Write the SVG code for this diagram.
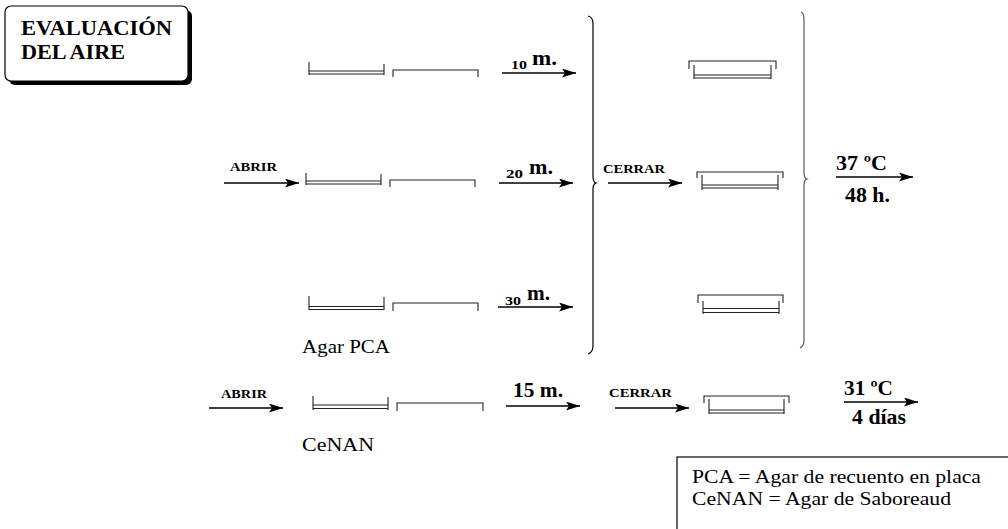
<svg xmlns="http://www.w3.org/2000/svg" width="1008" height="529" viewBox="0 0 1008 529">
<style>
.ln{stroke:#000;stroke-width:1.2;fill:none}
.pl{stroke:#222;stroke-width:1.1;fill:none}
.ar{stroke:#000;stroke-width:1.3;fill:none;marker-end:url(#ah)}
.b{font-weight:bold;fill:#000}
.r{fill:#000}
</style>
<defs>
<marker id="ah" markerUnits="userSpaceOnUse" markerWidth="15" markerHeight="10" refX="14" refY="4.5" orient="auto">
<path d="M0,0 L14,4.5 L0,9 L3,4.5 z" fill="#000"/>
</marker>
</defs>
<rect width="1008" height="529" fill="#fff"/>

<g font-family="Liberation Serif, DejaVu Serif, serif">
<g id="title">
<rect x="9" y="10" width="183" height="75" rx="6" fill="#000"/>
<rect x="5" y="6" width="183" height="75" rx="6" fill="#fff" stroke="#000" stroke-width="1.2"/>
<text class="b" x="21" y="35" font-size="21" textLength="151" lengthAdjust="spacingAndGlyphs">EVALUACIÓN</text>
<text class="b" x="21" y="59" font-size="21" textLength="104" lengthAdjust="spacingAndGlyphs">DEL AIRE</text>
</g>

<g id="row1">
<path class="pl" d="M309,62 V75 M384,64 V75 M309,71 H384 M309,74 H384"/>
<path class="pl" d="M393,77 V70 H478 V77"/>
</g>
<g id="row2">
<path class="pl" d="M306,173 V185 M381,174 V185 M306,181 H381 M306,184 H381"/>
<path class="pl" d="M390,187 V180 H475 V187"/>
</g>
<g id="row3">
<path class="pl" d="M309,296 V310 M384,297 V310 M309,306.5 H384 M309,309.5 H384"/>
<path class="pl" d="M393,311 V303 H478 V311"/>
<text class="r" x="302" y="353" font-size="18" textLength="88" lengthAdjust="spacingAndGlyphs">Agar PCA</text>
</g>

<g id="closed1">
<path class="pl" d="M689,69 V61 H776 V69"/>
<path class="pl" d="M694,65 V79 M771,65 V79 M694,75 H771 M694,78 H771"/>
</g>
<g id="closed2">
<path class="pl" d="M697,178 V172 H783 V178"/>
<path class="pl" d="M702,175 V190 M778,175 V190 M702,185 H778 M702,188 H778"/>
</g>
<g id="closed3">
<path class="pl" d="M698,303 V295 H783 V303"/>
<path class="pl" d="M703,301 V314 M779,301 V314 M703,308.5 H779 M703,312.5 H779"/>
</g>

<g id="brace1">
<path class="ln" d="M588,16 Q593,17 593,24 L593,177 Q593,182 596,183 Q593,184 593,189 L593,346 Q593,352 588,354"/>
</g>
<g id="brace2">
<path class="ln" style="stroke:#555" d="M801,12 Q804,13 804,19 L804,173 Q804,178 807,179 Q804,180 804,185 L804,340 Q804,346 800,348"/>
</g>

<g id="row4">
<path class="pl" d="M313,396 V410 M388,397 V410 M313,405 H388 M313,408.5 H388"/>
<path class="pl" d="M397,411 V403 H483 V411"/>
<path class="pl" d="M704,403 V396 H789 V403"/>
<path class="pl" d="M709,399 V414 M784,399 V414 M709,410 H784 M709,413 H784"/>
<text class="r" x="302" y="451" font-size="18" textLength="72" lengthAdjust="spacingAndGlyphs">CeNAN</text>
</g>

<g id="connectors">
<line class="ar" x1="502" y1="73" x2="576" y2="73"/>
<line class="ar" x1="224" y1="183" x2="299" y2="183"/>
<line class="ar" x1="499" y1="183" x2="573" y2="183"/>
<line class="ar" x1="498" y1="307" x2="573" y2="307"/>
<line class="ar" x1="608" y1="183" x2="682" y2="183"/>
<line class="ar" x1="836" y1="177" x2="913" y2="177"/>
<line class="ar" x1="209" y1="408" x2="283" y2="408"/>
<line class="ar" x1="506" y1="406" x2="580" y2="406"/>
<line class="ar" x1="615" y1="408" x2="689" y2="408"/>
<line class="ar" x1="844" y1="402" x2="918" y2="402"/>
</g>

<g id="labels">
<text class="b" x="511" y="69" font-size="13" textLength="16" lengthAdjust="spacingAndGlyphs">10</text>
<text class="b" x="532" y="65" font-size="20" textLength="25" lengthAdjust="spacingAndGlyphs">m.</text>
<text class="b" x="230" y="171" font-size="12" textLength="47" lengthAdjust="spacingAndGlyphs">ABRIR</text>
<text class="b" x="506" y="178" font-size="13" textLength="17" lengthAdjust="spacingAndGlyphs">20</text>
<text class="b" x="529" y="174" font-size="20" textLength="24" lengthAdjust="spacingAndGlyphs">m.</text>
<text class="b" x="505" y="305" font-size="13" textLength="16" lengthAdjust="spacingAndGlyphs">30</text>
<text class="b" x="527" y="300" font-size="20" textLength="23" lengthAdjust="spacingAndGlyphs">m.</text>
<text class="b" x="603" y="173" font-size="13" textLength="62" lengthAdjust="spacingAndGlyphs">CERRAR</text>
<text class="b" x="836" y="170" font-size="21" textLength="51" lengthAdjust="spacingAndGlyphs">37 ºC</text>
<text class="b" x="845" y="202" font-size="21" textLength="45" lengthAdjust="spacingAndGlyphs">48 h.</text>
<text class="b" x="221" y="398" font-size="12" textLength="46" lengthAdjust="spacingAndGlyphs">ABRIR</text>
<text class="b" x="513" y="397" font-size="21" textLength="50" lengthAdjust="spacingAndGlyphs">15 m.</text>
<text class="b" x="609" y="397" font-size="13" textLength="63" lengthAdjust="spacingAndGlyphs">CERRAR</text>
<text class="b" x="844" y="395" font-size="21" textLength="49" lengthAdjust="spacingAndGlyphs">31 ºC</text>
<text class="b" x="852" y="424" font-size="21" textLength="54" lengthAdjust="spacingAndGlyphs">4 días</text>
</g>

<g id="legend">
<rect x="677" y="457" width="340" height="80" fill="none" stroke="#000" stroke-width="1.2"/>
<text class="r" x="692" y="483" font-size="19" textLength="289" lengthAdjust="spacingAndGlyphs">PCA = Agar de recuento en placa</text>
<text class="r" x="692" y="505" font-size="19" textLength="259" lengthAdjust="spacingAndGlyphs">CeNAN = Agar de Saboreaud</text>
</g>
</g>
</svg>
